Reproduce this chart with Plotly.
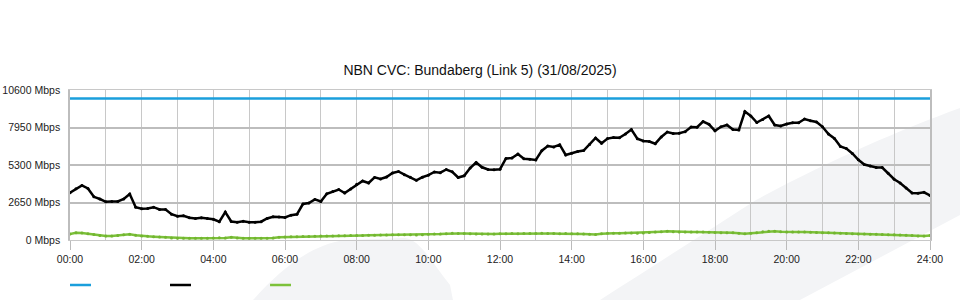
import plotly.graph_objects as go

# time in hours, 10-minute samples 00:00 .. 24:00
hours = [k / 6 for k in range(145)]

capacity = [10000] * 145

inbound = [
    3343, 3618, 3851, 3639, 3053, 2897, 2699, 2728, 2728, 2897,
    3251, 2311, 2205, 2226, 2318, 2155, 2148, 1823, 1682, 1710,
    1569, 1512, 1576, 1519, 1463, 1293, 1979, 1307, 1258, 1321,
    1251, 1251, 1293, 1519, 1647, 1625, 1590, 1753, 1816, 2544,
    2615, 2869, 2721, 3272, 3427, 3569, 3321, 3604, 3943, 4169,
    4028, 4424, 4311, 4452, 4735, 4841, 4615, 4431, 4219, 4438,
    4579, 4805, 4756, 4982, 4819, 4417, 4537, 5088, 5477, 5138,
    4982, 4961, 5003, 5759, 5795, 6077, 5745, 5703, 5653, 6311,
    6643, 6572, 6735, 6007, 6127, 6254, 6318, 6749, 7208, 6834,
    7166, 7250, 7222, 7491, 7809, 7159, 6996, 6954, 6805, 7279,
    7632, 7526, 7540, 7653, 7985, 7971, 8374, 8176, 7717, 7999,
    8127, 7809, 7773, 9081, 8763, 8303, 8515, 8763, 8127, 8056,
    8197, 8289, 8289, 8551, 8431, 8339, 7999, 7491, 7173, 6607,
    6466, 6113, 5667, 5335, 5229, 5130, 5123, 4713, 4297, 4028,
    3675, 3321, 3300, 3371, 3145,
]

outbound = [
    424, 516, 495, 438, 389, 318, 283, 283, 318, 375,
    403, 339, 283, 261, 233, 212, 191, 141, 120, 120,
    120, 120, 120, 120, 141, 163, 141, 191, 141, 120,
    120, 120, 120, 120, 141, 200, 212, 233, 233, 240,
    254, 268, 283, 283, 290, 297, 304, 311, 318, 325,
    332, 339, 346, 353, 375, 375, 375, 375, 353, 375,
    403, 424, 424, 445, 473, 459, 452, 438, 431, 424,
    431, 424, 438, 445, 452, 445, 452, 452, 459, 473,
    466, 452, 445, 452, 445, 438, 424, 410, 389, 438,
    473, 473, 480, 495, 502, 480, 502, 537, 565, 590,
    615, 590, 565, 565, 565, 565, 565, 551, 530, 516,
    516, 516, 480, 438, 480, 516, 580, 615, 615, 590,
    565, 565, 565, 565, 551, 537, 516, 516, 502, 480,
    466, 438, 424, 424, 410, 403, 389, 375, 375, 360,
    339, 318, 283, 290, 318,
]

y_ticks = [0, 2650, 5300, 7950, 10600]
y_tick_labels = [f"{v} Mbps" for v in y_ticks]
x_ticks = list(range(0, 25, 2))
x_tick_labels = [f"{h:02d}:00" for h in x_ticks]

title_text = "NBN CVC: Bundaberg (Link 5) (31/08/2025)"

BLUE = "#1a9fdc"
BLACK = "#000000"
GREEN = "#7cc13a"
WM = "#f3f4f6"
FONT = "Liberation Sans, Arial, sans-serif"

fig = go.Figure()
fig.add_trace(go.Scatter(x=hours, y=capacity, mode="lines",
                         line=dict(color=BLUE, width=2.5), showlegend=False))
fig.add_trace(go.Scatter(x=hours, y=outbound, mode="lines+markers",
                         line=dict(color=GREEN, width=2.5),
                         marker=dict(size=3, color="#72b530"), showlegend=False))
fig.add_trace(go.Scatter(x=hours, y=inbound, mode="lines+markers",
                         line=dict(color=BLACK, width=2.5),
                         marker=dict(size=3, color=BLACK), showlegend=False))

shapes = [
    # faint background watermark
    dict(type="path", xref="paper", yref="paper", layer="below",
         path="M 0.2128,-0.4 C 0.2442,-0.2 0.2791,-0.0333 0.3198,0 "
              "L 0.3895,0.0133 C 0.407,0 0.4186,-0.1333 0.4419,-0.3 L 0.4453,-0.4 Z",
         fillcolor=WM, line=dict(width=0)),
    dict(type="path", xref="paper", yref="paper", layer="below",
         path="M 0.6163,-0.4 C 0.6744,-0.1867 0.7326,0.0267 0.7977,0.2667 "
              "C 0.8837,0.5333 0.9651,0.7333 1.0349,0.88 L 1.0349,0.1667 "
              "L 0.9802,0 L 0.8488,-0.4 Z",
         fillcolor=WM, line=dict(width=0)),
    # legend swatches (no labels in the original)
    dict(type="line", xref="paper", yref="paper", x0=0.0, x1=0.0244, y0=-0.3, y1=-0.3,
         line=dict(color=BLUE, width=2.5)),
    dict(type="line", xref="paper", yref="paper", x0=0.1163, x1=0.1407, y0=-0.3, y1=-0.3,
         line=dict(color=BLACK, width=2.5)),
    dict(type="line", xref="paper", yref="paper", x0=0.2326, x1=0.257, y0=-0.3, y1=-0.3,
         line=dict(color=GREEN, width=2.5)),
]

fig.update_layout(
    width=960, height=300,
    margin=dict(l=70, r=30, t=90, b=60, pad=0, autoexpand=False),
    paper_bgcolor="white", plot_bgcolor="rgba(0,0,0,0)",
    font=dict(family=FONT, size=10.5, color="#222222"),
    title=dict(text=title_text, x=0.5, xref="container", xanchor="center",
               y=0.765, yref="container", yanchor="middle",
               font=dict(family=FONT, size=14, color="#111111")),
    showlegend=False,
    shapes=shapes,
)
fig.update_xaxes(
    range=[0, 24], tickvals=x_ticks, ticktext=x_tick_labels,
    ticks="outside", ticklen=9, tickcolor="#bbbbbb", tickwidth=1,
    showgrid=True, gridcolor="#c8c8c8", gridwidth=1,
    minor=dict(dtick=1, showgrid=True, gridcolor="#c8c8c8", gridwidth=1),
    zeroline=False, showline=True, mirror=True, linecolor="#c8c8c8", linewidth=1,
    tickfont=dict(size=10.5, color="#222222"), fixedrange=True, automargin=False,
)
fig.update_yaxes(
    range=[0, 10600], tickvals=y_ticks, ticktext=y_tick_labels,
    ticks="", ticklabelstandoff=6,
    showgrid=True, gridcolor="#bdbdbd", gridwidth=1.5,
    zeroline=False, showline=True, mirror=True, linecolor="#bdbdbd", linewidth=1.5,
    tickfont=dict(size=10.5, color="#222222"), fixedrange=True, automargin=False,
)

fig.write_html("out.html")
